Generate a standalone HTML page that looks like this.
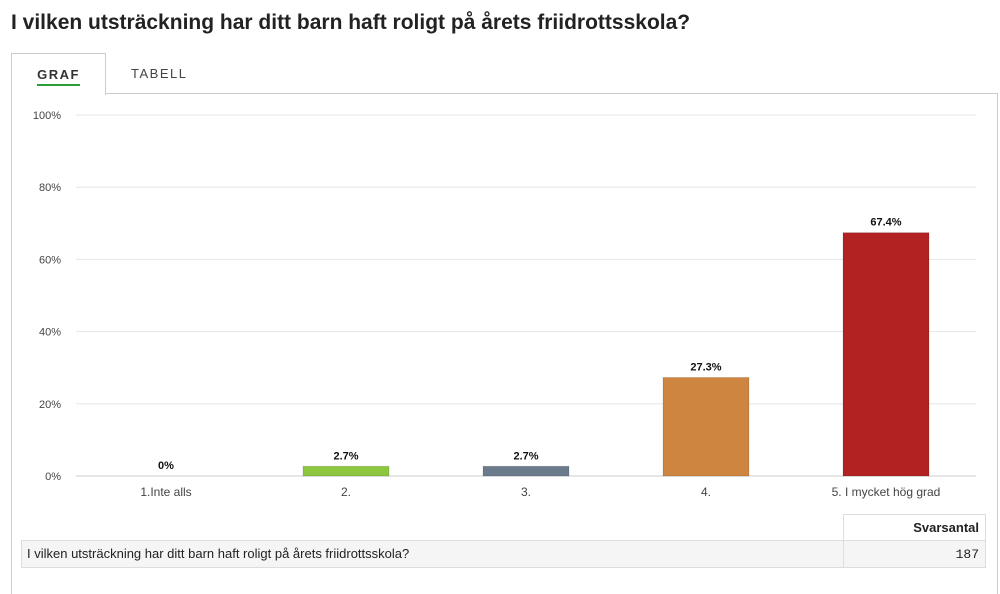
<!DOCTYPE html>
<html><head><meta charset="utf-8"><style>
body{margin:0;width:1000px;height:572px;overflow:hidden;background:#fff;font-family:"Liberation Sans",sans-serif;position:relative}
.abs{position:absolute}
</style></head><body>
<div class="abs" style="left:11px;top:11px;font-size:21px;font-weight:bold;color:#222">I vilken utsträckning har ditt barn haft roligt på årets friidrottsskola?</div>
<div class="abs" style="left:11px;top:93px;width:985px;height:500px;border:1px solid #ccc;border-bottom:none"></div>
<div class="abs" style="left:11px;top:53px;width:93px;height:41px;border:1px solid #ccc;border-bottom:none;background:#fff;text-align:center">
 <span style="display:inline-block;margin-top:13px;font-size:13px;font-weight:bold;letter-spacing:1.5px;color:#333;border-bottom:2px solid #2a9d3a;padding-bottom:2px">GRAF</span></div>
<div class="abs" style="left:131px;top:66px;font-size:13px;letter-spacing:1.5px;color:#444">TABELL</div>
<svg class="abs" style="left:0;top:0" width="1000" height="572" id="chart"></svg>
<div class="abs" style="left:843px;top:514px;width:135px;height:25px;border:1px solid #ddd;text-align:right;padding-right:6px;font-size:13px;font-weight:bold;line-height:25px;color:#222">Svarsantal</div>
<div class="abs" style="left:21px;top:540px;width:963px;height:26px;border:1px solid #ddd;background:#f5f5f5;font-size:13px;line-height:26px;color:#222">
 <span style="padding-left:5px">I vilken utsträckning har ditt barn haft roligt på årets friidrottsskola?</span>
 <div class="abs" style="left:821px;top:0;width:141px;height:26px;border-left:1px solid #ddd;text-align:right;"><span style="padding-right:6px;font-family:'Liberation Mono',monospace">187</span></div>
</div>
<script>
const categories=["1.Inte alls","2.","3.","4.","5. I mycket hög grad"];
const values=[0,2.7,2.7,27.3,67.4];
const labels=["0%","2.7%","2.7%","27.3%","67.4%"];
const colors=["#999","#8dc63f","#6b7b8c","#cd853f","#b22222"];
const ticks=[0,20,40,60,80,100];
const svg=document.getElementById('chart');const NS='http://www.w3.org/2000/svg';
const x0=76,x1=976,yb=476,yt=115;
const y=v=>yb-(yb-yt)*v/100;
const band=(x1-x0)/categories.length;
const cx=i=>x0+band*(i+0.5);
function mk(t,a,txt){const e=document.createElementNS(NS,t);for(const k in a)e.setAttribute(k,a[k]);if(txt!==undefined)e.textContent=txt;svg.appendChild(e);return e;}
ticks.forEach(t=>{
 const l=mk('line',{x1:x0,x2:x1,y1:y(t),y2:y(t),stroke:t===0?'#ccc':'#e6e6e6','stroke-width':1});
 
 
 const tx=mk('text',{x:61,y:y(t)+4,'text-anchor':'end','font-size':11,fill:'#444','font-family':'Liberation Sans'},t+'%');
 
 
});
categories.forEach((c,i)=>{
 const h=yb-y(values[i]);
 const r=mk('rect',{x:cx(i)-43,y:y(values[i]),width:86,height:h,fill:colors[i],stroke:'rgba(0,0,0,0.12)','stroke-width':1});
 
 
 const v=mk('text',{x:cx(i),y:y(values[i])-7,'text-anchor':'middle','font-size':11,'font-weight':'bold',fill:'#111','font-family':'Liberation Sans'},labels[i]);
 
 
 const t=mk('text',{x:cx(i),y:496,'text-anchor':'middle','font-size':12,fill:'#444','font-family':'Liberation Sans'},c);
 
 
});
</script>
</body></html>
